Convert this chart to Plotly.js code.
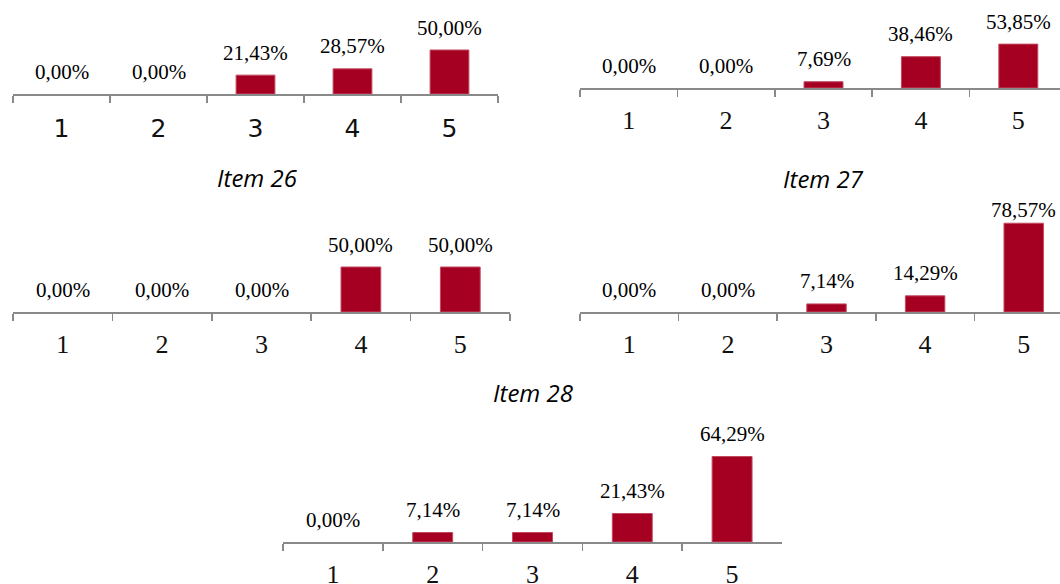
<!DOCTYPE html>
<html><head><meta charset="utf-8">
<script src="https://cdn.plot.ly/plotly-3.0.1.min.js"></script>
<style>html,body{margin:0;padding:0;background:#fff}#chart{width:1060px;height:584px}</style>
</head><body><div id="chart"></div>
<script>
// ---- data ----
const categories = ['1', '2', '3', '4', '5'];
const itemTopLeft  = [0.00, 0.00, 21.43, 28.57, 50.00];
const itemTopRight = [0.00, 0.00, 7.69, 38.46, 53.85];
const item26 = [0.00, 0.00, 0.00, 50.00, 50.00];
const item27 = [0.00, 0.00, 7.14, 14.29, 78.57];
const item28 = [0.00, 7.14, 7.14, 21.43, 64.29];
const titles = ['Item 26', 'Item 27', 'Item 28'];

// ---- layout (pixels) ----
const W = 1060, H = 584;
const panels = [
  {vals: itemTopLeft,  x0: 13,  x1: 498,  base: 94,  top: 6,   xend: 4.5,   sans: true},
  {vals: itemTopRight, x0: 580, x1: 1060, base: 88,  top: 6.5, xend: 4.428, sans: false},
  {vals: item26,       x0: 13,  x1: 510,  base: 312, top: 222, xend: 4.5,   sans: false},
  {vals: item27,       x0: 580, x1: 1060, base: 312, top: 199, xend: 4.368, sans: false},
  {vals: item28,       x0: 283, x1: 782,  base: 542, top: 409, xend: 4.5,   sans: false}
];
const titlePos = [[257, 177], [823, 178], [533, 392]];

const barColor = '#A50021';
const axisColor = '#898989';
const serif = 'Liberation Serif, Times New Roman, serif';

const data = [];
const layout = {
  width: W, height: H,
  margin: {l: 0, r: 0, t: 0, b: 0},
  paper_bgcolor: '#fff', plot_bgcolor: 'rgba(0,0,0,0)',
  showlegend: false,
  annotations: []
};

panels.forEach((p, i) => {
  const n = i + 1;
  const xa = n === 1 ? 'x' : 'x' + n;
  const ya = n === 1 ? 'y' : 'y' + n;
  data.push({
    type: 'bar', x: categories, y: p.vals, xaxis: xa, yaxis: ya,
    width: 0.4,
    marker: {color: barColor, line: {color: '#C24A60', width: p.vals.map(v => v > 0 ? 1 : 0)}},
    hoverinfo: 'skip'
  });
  layout['xaxis' + (n === 1 ? '' : n)] = {
    type: 'category', domain: [p.x0 / W, p.x1 / W], anchor: ya,
    range: [-0.5, p.xend], tickson: 'boundaries',
    ticks: 'outside', ticklen: 7, tickwidth: 1.5, tickcolor: axisColor,
    showline: true, linecolor: axisColor, linewidth: 1.5,
    showgrid: false, zeroline: false, fixedrange: true,
    ticklabelstandoff: p.sans ? 11 : 8,
    tickfont: p.sans ? {family: 'DejaVu Sans, sans-serif', size: 25, color: '#111'}
                     : {family: serif, size: 26, color: '#111'}
  };
  layout['yaxis' + (n === 1 ? '' : n)] = {
    domain: [(H - p.base) / H, (H - p.top) / H], anchor: xa,
    range: [0, 100], visible: false, fixedrange: true
  };
  const scale = (p.base - p.top) / 100;
  const hpx = p.base - p.top;
  p.vals.forEach((v, k) => {
    let shift = 22.5;
    const barPx = v * scale;
    if (barPx + shift > hpx - 11) shift = hpx - 11 - barPx;
    layout.annotations.push({
      xref: xa, yref: ya, x: k, y: v,
      text: v.toFixed(2).replace('.', ',') + '%',
      showarrow: false, yanchor: 'middle', xanchor: 'center', yshift: shift,
      font: {family: serif, size: 21, color: '#000'}
    });
  });
});

titles.forEach((t, i) => {
  layout.annotations.push({
    xref: 'paper', yref: 'paper', x: titlePos[i][0] / W, y: 1 - titlePos[i][1] / H,
    text: '<i>' + t + '</i>', showarrow: false, xanchor: 'center', yanchor: 'middle',
    font: {family: 'Open Sans, sans-serif', size: 24, color: '#000'}
  });
});

Plotly.newPlot('chart', data, layout, {displayModeBar: false, staticPlot: true});
</script>
</body></html>
